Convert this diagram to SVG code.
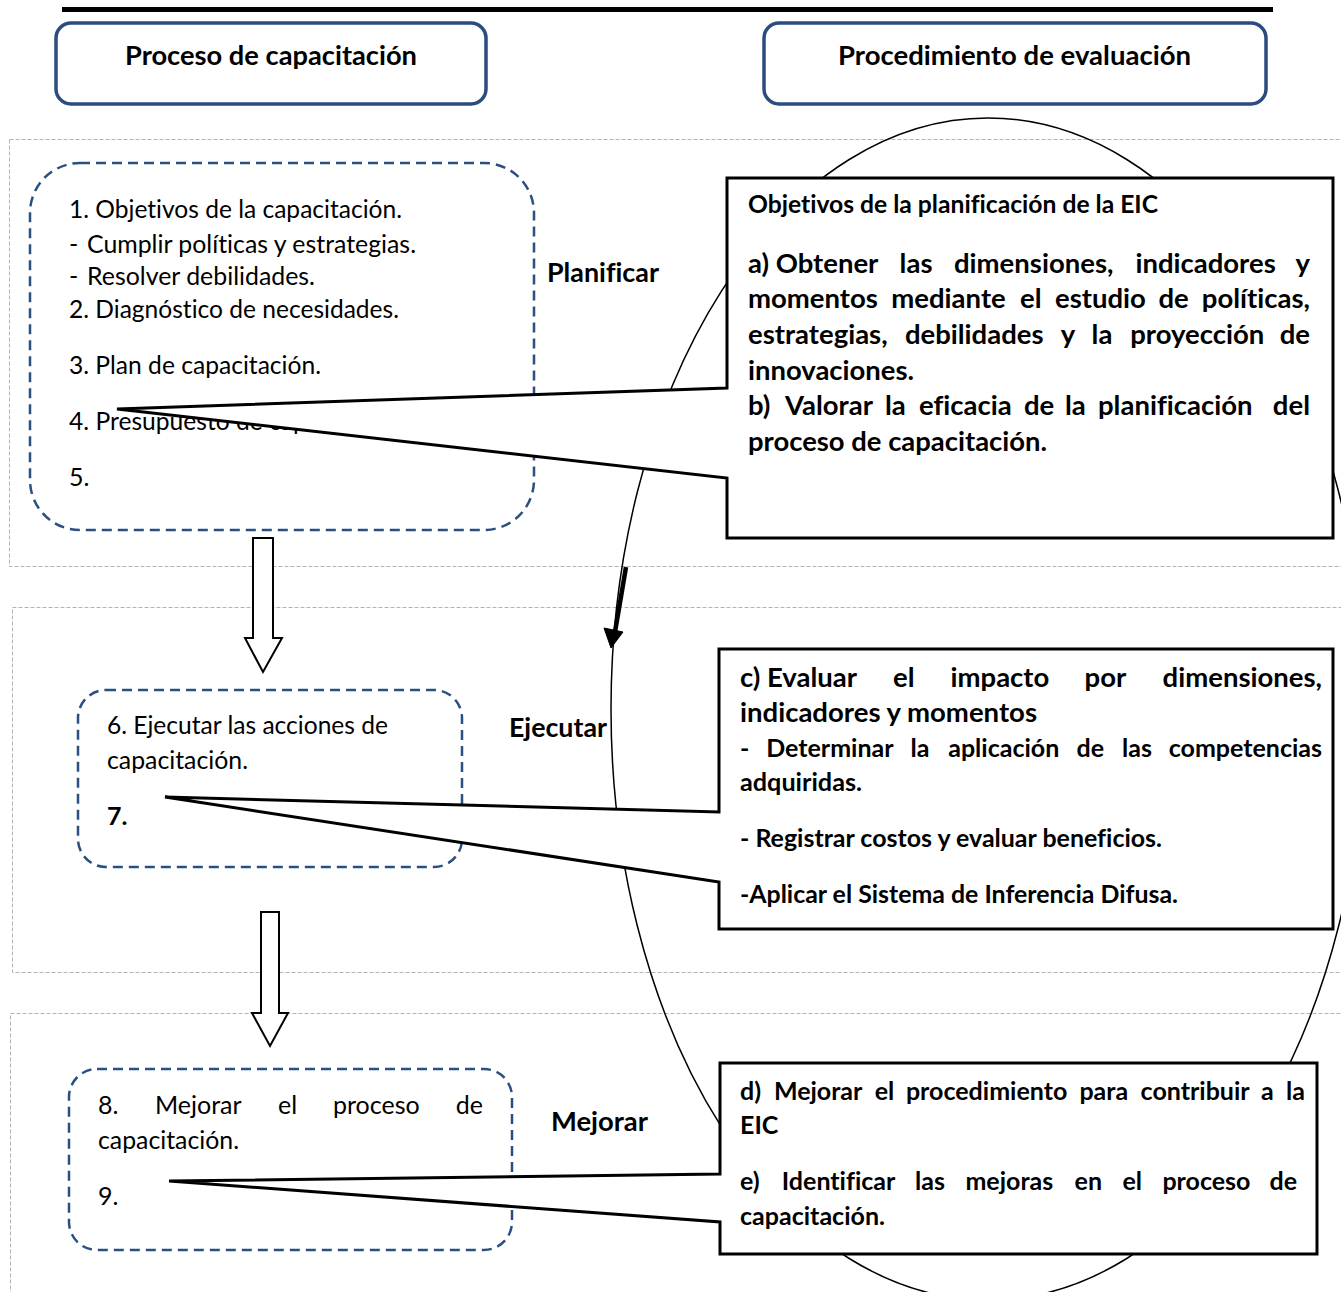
<svg xmlns="http://www.w3.org/2000/svg" width="1341" height="1292" viewBox="0 0 1341 1292">
<style>
  .sec { fill: none; stroke: #b3b3b3; stroke-width: 1; stroke-dasharray: 4 2; }
  .hdr { fill: #ffffff; stroke: #2b4c7e; stroke-width: 3.5; }
  .dbox { fill: #ffffff; stroke: #2b4f82; stroke-width: 2.5; stroke-dasharray: 10 6; }
  .call { fill: #ffffff; stroke: #000000; stroke-width: 3; stroke-linejoin: miter; }
  .blk { fill: #ffffff; stroke: #000000; stroke-width: 2; }
  .t { font-family: Lato, 'Liberation Sans', sans-serif; fill: #000000; font-variant-ligatures: none; font-feature-settings: "liga" 0; }
  .r { font-size: 25px; }
  .b { font-weight: bold; font-size: 27.5px; }
  .bs { font-weight: bold; font-size: 25px; }
  .bh { font-weight: bold; font-size: 24.5px; }
  .e { text-anchor: end; }
</style>

<!-- section frames -->
<g id="sections">
  <rect class="sec" x="9.5" y="139.5" width="1360" height="427"/>
  <rect class="sec" x="12.5" y="607.5" width="1360" height="365"/>
  <rect class="sec" x="10.5" y="1013.5" width="1360" height="320"/>
</g>

<!-- top rule -->
<line x1="62" y1="9.5" x2="1273" y2="9.5" stroke="#000" stroke-width="5"/>

<!-- header nodes -->
<g id="hdr-capacitacion">
  <rect class="hdr" x="56" y="23" width="430" height="81" rx="15"/>
  <text class="t b" x="125" y="65" textLength="292" lengthAdjust="spacingAndGlyphs">Proceso de capacitación</text>
</g>
<g id="hdr-evaluacion">
  <rect class="hdr" x="764" y="23" width="502" height="81" rx="15"/>
  <text class="t b" x="838" y="65" textLength="353" lengthAdjust="spacingAndGlyphs">Procedimiento de evaluación</text>
</g>

<!-- evaluation cycle ellipse -->
<g id="ciclo">
  <ellipse cx="988" cy="709" rx="377" ry="591" fill="none" stroke="#000" stroke-width="1.5"/>
</g>

<!-- left process nodes -->
<g id="planificar-box">
  <rect class="dbox" x="30" y="163" width="504" height="367" rx="50"/>
  <text class="t r" x="69" y="218" textLength="333" lengthAdjust="spacingAndGlyphs">1. Objetivos de la capacitación.</text>
  <text class="t r" x="69" y="253">-</text>
  <text class="t r" x="87" y="253" textLength="329" lengthAdjust="spacingAndGlyphs">Cumplir políticas y estrategias.</text>
  <text class="t r" x="69" y="285">-</text>
  <text class="t r" x="87" y="285" textLength="228" lengthAdjust="spacingAndGlyphs">Resolver debilidades.</text>
  <text class="t r" x="69" y="318" textLength="330" lengthAdjust="spacingAndGlyphs">2. Diagnóstico de necesidades.</text>
  <text class="t r" x="69" y="374" textLength="252" lengthAdjust="spacingAndGlyphs">3. Plan de capacitación.</text>
  <text class="t r" x="69" y="430" textLength="340" lengthAdjust="spacingAndGlyphs">4. Presupuesto de capacitación.</text>
  <text class="t r" x="69" y="486">5.</text>
</g>
<g id="ejecutar-box">
  <rect class="dbox" x="78" y="690" width="384" height="177" rx="28"/>
  <text class="t r" x="107" y="734" textLength="281" lengthAdjust="spacingAndGlyphs">6. Ejecutar las acciones de</text>
  <text class="t r" x="107" y="769" textLength="141" lengthAdjust="spacingAndGlyphs">capacitación.</text>
  <text class="t bs" x="107" y="825">7.</text>
</g>
<g id="mejorar-box">
  <rect class="dbox" x="69" y="1069" width="443" height="181" rx="28"/>
  <text class="t r" y="1114"><tspan x="98">8.</tspan><tspan x="155">Mejorar</tspan><tspan x="278">el</tspan><tspan x="333">proceso</tspan><tspan class="e" x="483">de</tspan></text>
  <text class="t r" x="98" y="1149" textLength="141" lengthAdjust="spacingAndGlyphs">capacitación.</text>
  <text class="t r" x="98" y="1205">9.</text>
</g>

<!-- connectors -->
<g id="connectors">
  <path class="blk" d="M253,538 H273 V638 H282 L263,672 L245,638 H253 Z"/>
  <path class="blk" d="M261,912 H279 V1013 H288 L270,1046 L252,1013 H261 Z"/>
  <line x1="626" y1="567" x2="615" y2="632" stroke="#000" stroke-width="4.5"/>
  <path d="M604,628 L623,632 L611,648 Z" fill="#000" stroke="#000" stroke-width="1"/>
</g>

<!-- phase labels -->
<g id="labels">
  <text class="t b" x="547" y="282" textLength="112" lengthAdjust="spacingAndGlyphs">Planificar</text>
  <text class="t b" x="509" y="737" textLength="98" lengthAdjust="spacingAndGlyphs">Ejecutar</text>
  <text class="t b" x="551" y="1131" textLength="97" lengthAdjust="spacingAndGlyphs">Mejorar</text>
</g>

<!-- callout 1 -->
<g id="callout-planificar">
  <path class="call" d="M727,178 H1333 V538 H727 V478 L117,409 L727,388 Z"/>
  <text class="t bh" x="748" y="213" textLength="410" lengthAdjust="spacingAndGlyphs">Objetivos de la planificación de la EIC</text>
  <text class="t b" y="273"><tspan x="748">a) Obtener</tspan><tspan x="899.6">las</tspan><tspan x="954">dimensiones,</tspan><tspan x="1135.4">indicadores</tspan><tspan class="e" x="1310">y</tspan></text>
  <text class="t b" y="308"><tspan x="748">momentos</tspan><tspan x="891.3">mediante</tspan><tspan x="1020">el</tspan><tspan x="1055">estudio</tspan><tspan x="1158.4">de</tspan><tspan class="e" x="1310">políticas,</tspan></text>
  <text class="t b" y="344"><tspan x="748">estrategias,</tspan><tspan x="904.9">debilidades</tspan><tspan x="1060.8">y</tspan><tspan x="1091.6">la</tspan><tspan x="1130.2">proyección</tspan><tspan class="e" x="1310">de</tspan></text>
  <text class="t b" x="748" y="380" textLength="166" lengthAdjust="spacingAndGlyphs">innovaciones.</text>
  <text class="t b" y="415"><tspan x="748">b)</tspan><tspan x="785">Valorar</tspan><tspan x="885">la</tspan><tspan x="919">eficacia</tspan><tspan x="1024">de</tspan><tspan x="1065">la</tspan><tspan x="1098">planificación</tspan><tspan class="e" x="1310">del</tspan></text>
  <text class="t b" x="748" y="451" textLength="299" lengthAdjust="spacingAndGlyphs">proceso de capacitación.</text>
</g>

<!-- callout 2 -->
<g id="callout-ejecutar">
  <path class="call" d="M719,649 H1333 V929 H719 V882 L165,797 L719,812 Z"/>
  <text class="t b" y="687"><tspan x="740">c) Evaluar</tspan><tspan x="893">el</tspan><tspan x="950.5">impacto</tspan><tspan x="1084.6">por</tspan><tspan class="e" x="1322">dimensiones,</tspan></text>
  <text class="t b" x="740" y="722" textLength="297" lengthAdjust="spacingAndGlyphs">indicadores y momentos</text>
  <text class="t bs" y="757"><tspan x="740">-</tspan><tspan x="766.2">Determinar</tspan><tspan x="910.6">la</tspan><tspan x="948.2">aplicación</tspan><tspan x="1076.5">de</tspan><tspan x="1122.1">las</tspan><tspan class="e" x="1322">competencias</tspan></text>
  <text class="t bs" x="740" y="791" textLength="122" lengthAdjust="spacingAndGlyphs">adquiridas.</text>
  <text class="t bs" x="740" y="847" textLength="422" lengthAdjust="spacingAndGlyphs">- Registrar costos y evaluar beneficios.</text>
  <text class="t bs" x="740" y="903" textLength="438" lengthAdjust="spacingAndGlyphs">-Aplicar el Sistema de Inferencia Difusa.</text>
</g>

<!-- callout 3 -->
<g id="callout-mejorar">
  <path class="call" d="M720,1063 H1317 V1254 H720 V1222 L169,1181 L720,1174 Z"/>
  <text class="t bs" y="1100"><tspan x="740">d)</tspan><tspan x="773.9">Mejorar</tspan><tspan x="874.7">el</tspan><tspan x="905.9">procedimiento</tspan><tspan x="1079.4">para</tspan><tspan x="1140.6">contribuir</tspan><tspan x="1261.1">a</tspan><tspan class="e" x="1305">la</tspan></text>
  <text class="t bs" x="740" y="1134">EIC</text>
  <text class="t bs" y="1190"><tspan x="740">e)</tspan><tspan x="781.8">Identificar</tspan><tspan x="915">las</tspan><tspan x="965.4">mejoras</tspan><tspan x="1074.6">en</tspan><tspan x="1122.4">el</tspan><tspan x="1162.4">proceso</tspan><tspan class="e" x="1297">de</tspan></text>
  <text class="t bs" x="740" y="1225" textLength="145" lengthAdjust="spacingAndGlyphs">capacitación.</text>
</g>
</svg>
